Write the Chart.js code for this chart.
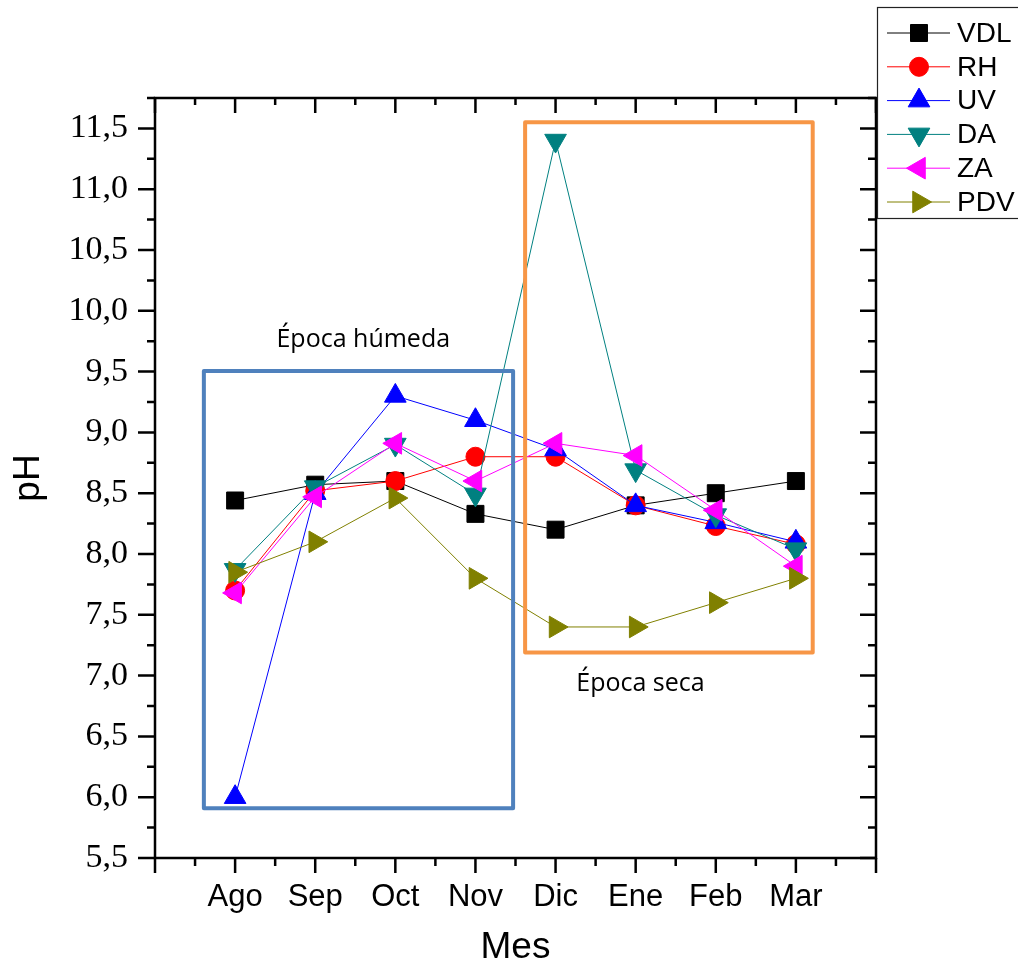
<!DOCTYPE html>
<html>
<head>
<meta charset="utf-8">
<script src="https://cdn.jsdelivr.net/npm/chart.js@4/dist/chart.umd.min.js"></script>
<style>
  html, body { margin: 0; padding: 0; background: #fff; }
  canvas { display: block; }
</style>
</head>
<body>
<canvas id="ph" width="1018" height="966"></canvas>
<script>
// Months sampled (x positions 1..8 on a linear axis)
const months   = ['Ago', 'Sep', 'Oct', 'Nov', 'Dic', 'Ene', 'Feb', 'Mar'];
const monthPos = [1, 2, 3, 4, 5, 6, 7, 8];
const yTicks   = [5.5, 6.0, 6.5, 7.0, 7.5, 8.0, 8.5, 9.0, 9.5, 10.0, 10.5, 11.0, 11.5];

// pH per site
const VDL = [8.44, 8.57, 8.60, 8.33, 8.20, 8.40, 8.50, 8.60];
const RH  = [7.70, 8.52, 8.60, 8.80, 8.80, 8.40, 8.23, 8.08];
const UV  = [6.00, 8.50, 9.30, 9.10, 8.86, 8.40, 8.26, 8.10];
const DA  = [7.87, 8.55, 8.90, 8.49, 11.40, 8.69, 8.32, 8.04];
const ZA  = [7.68, 8.47, 8.91, 8.60, 8.91, 8.81, 8.36, 7.90];
const PDV = [7.85, 8.10, 8.46, 7.80, 7.40, 7.40, 7.60, 7.80];

const series = [
  { name: 'VDL', values: VDL, color: '#000000', style: 'rect',     rot: 0,   r: 12 },
  { name: 'RH',  values: RH,  color: '#FF0000', style: 'circle',   rot: 0,   r: 9.5 },
  { name: 'UV',  values: UV,  color: '#0000FF', style: 'triangle', rot: 0,   r: 12.5 },
  { name: 'DA',  values: DA,  color: '#008080', style: 'triangle', rot: 180, r: 12.5 },
  { name: 'ZA',  values: ZA,  color: '#FF00FF', style: 'triangle', rot: 270, r: 12.5 },
  { name: 'PDV', values: PDV, color: '#808000', style: 'triangle', rot: 90,  r: 12.5 }
];

// Season frames, in axis units
const seasons = [
  { text: 'Época húmeda', x0: 0.61, x1: 4.47, y0: 5.91, y1: 9.505, color: '#4F81BD', tx: 2.60, ty: 9.76 },
  { text: 'Época seca',   x0: 4.62, x1: 8.21, y0: 7.19, y1: 11.55, color: '#F79646', tx: 6.06, ty: 6.93 }
];

const SANS  = '"Liberation Sans", Arial, sans-serif';
const SERIF = '"Liberation Serif", "Times New Roman", serif';

const framePlugin = {
  id: 'originFrame',
  afterDatasetsDraw(chart) {
    const { ctx, chartArea: a, scales: { x, y } } = chart;
    ctx.save();

    // season boxes and captions
    seasons.forEach(s => {
      const l = x.getPixelForValue(s.x0), r = x.getPixelForValue(s.x1);
      const t = y.getPixelForValue(s.y1), b = y.getPixelForValue(s.y0);
      ctx.strokeStyle = s.color;
      ctx.lineWidth = 4;
      ctx.lineJoin = 'round';
      ctx.strokeRect(l, t, r - l, b - t);
      ctx.fillStyle = '#000';
      ctx.font = '25px "Open Sans", sans-serif';
      ctx.textAlign = 'center';
      ctx.textBaseline = 'middle';
      ctx.fillText(s.text, x.getPixelForValue(s.tx), y.getPixelForValue(s.ty));
    });

    // plot frame
    ctx.strokeStyle = '#000';
    ctx.lineWidth = 2.5;
    ctx.lineJoin = 'miter';
    ctx.strokeRect(a.left, a.top, a.right - a.left, a.bottom - a.top);

    // tick marks: outward on bottom/left, inward on top/right
    ctx.lineWidth = 2.5;
    ctx.beginPath();
    for (let v = x.min; v <= x.max + 1e-9; v += 0.5) {
      const major = Math.abs(v - Math.round(v)) < 1e-9;
      const px = x.getPixelForValue(v);
      ctx.moveTo(px, a.bottom); ctx.lineTo(px, a.bottom + (major ? 15 : 8));
      ctx.moveTo(px, a.top);    ctx.lineTo(px, a.top + (major ? 15 : 7));
    }
    for (let v = y.min; v <= y.max + 1e-9; v += 0.25) {
      const major = Math.abs(v * 2 - Math.round(v * 2)) < 1e-9;
      const py = y.getPixelForValue(v);
      ctx.moveTo(a.left, py);  ctx.lineTo(a.left - (major ? 17 : 8), py);
      ctx.moveTo(a.right, py); ctx.lineTo(a.right - (major ? 16 : 8), py);
    }
    ctx.stroke();
    ctx.restore();
  },
  afterDraw(chart) {
    const { ctx } = chart;
    ctx.save();
    // legend box
    ctx.fillStyle = '#fff';
    ctx.fillRect(877, 7, 150, 212);
    ctx.strokeStyle = '#222';
    ctx.lineWidth = 1.2;
    ctx.strokeRect(877.5, 7.5, 150, 211);
    series.forEach((s, i) => {
      const cy = 33 + i * 33.8;
      ctx.strokeStyle = s.color;
      ctx.lineWidth = 1;
      ctx.beginPath();
      ctx.moveTo(887, cy); ctx.lineTo(950, cy);
      ctx.stroke();
      ctx.fillStyle = s.color;
      Chart.helpers.drawPoint(ctx, { pointStyle: s.style, rotation: s.rot, radius: s.r, borderWidth: 1 }, 919, cy);
      ctx.fillStyle = '#000';
      ctx.font = '28px ' + SANS;
      ctx.textAlign = 'left';
      ctx.textBaseline = 'middle';
      ctx.fillText(s.name, 957, cy + 1);
    });
    ctx.restore();
  }
};

new Chart(document.getElementById('ph'), {
  type: 'line',
  data: {
    datasets: series.map((s, i) => ({
      label: s.name,
      data: monthPos.map((m, k) => ({ x: m, y: s.values[k] })),
      borderColor: s.color,
      backgroundColor: s.color,
      borderWidth: 1,
      tension: 0,
      fill: false,
      pointStyle: s.style,
      pointRotation: s.rot,
      pointRadius: s.r,
      pointBorderWidth: 1,
      pointBackgroundColor: s.color,
      pointBorderColor: s.color,
      order: series.length - i,
      clip: false
    }))
  },
  options: {
    responsive: false,
    animation: false,
    events: [],
    layout: { padding: { left: 0, top: 98, right: 142, bottom: 0 } },
    plugins: { legend: { display: false }, tooltip: { enabled: false } },
    scales: {
      x: {
        type: 'linear',
        min: 0,
        max: 9,
        afterBuildTicks: s => { s.ticks = monthPos.map(v => ({ value: v })); },
        afterFit: s => { s.height = 108; },
        grid: { display: false, drawTicks: false },
        border: { display: false },
        ticks: {
          autoSkip: false,
          maxRotation: 0,
          padding: 21,
          color: '#000',
          font: { family: SANS, size: 31 },
          callback: (v, i) => months[i]
        },
        title: {
          display: true,
          text: 'Mes',
          color: '#000',
          font: { family: SANS, size: 37 },
          padding: { top: 0, bottom: -4 }
        }
      },
      y: {
        type: 'linear',
        min: 5.5,
        max: 11.75,
        afterBuildTicks: s => { s.ticks = yTicks.map(v => ({ value: v })); },
        afterFit: s => { s.width = 155; },
        grid: { display: false, drawTicks: false },
        border: { display: false },
        ticks: {
          padding: 27,
          color: '#000',
          font: { family: SERIF, size: 34 },
          callback: v => v.toFixed(1).replace('.', ',')
        },
        title: {
          display: true,
          text: 'pH',
          color: '#000',
          font: { family: SANS, size: 37 },
          padding: { top: 7, bottom: 0 }
        }
      }
    }
  },
  plugins: [framePlugin]
});
</script>
</body>
</html>
